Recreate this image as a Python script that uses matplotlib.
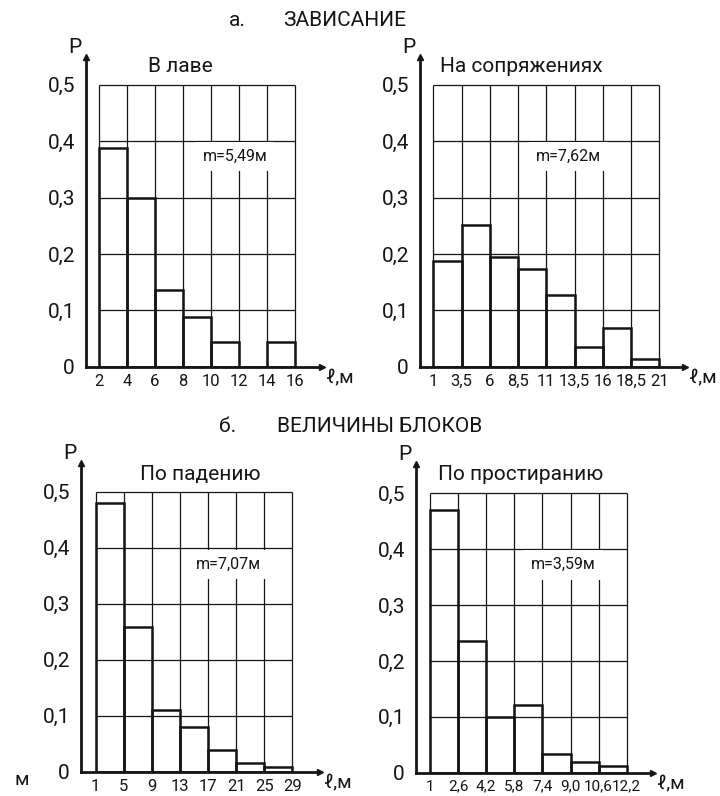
import matplotlib

matplotlib.use("Agg")
import matplotlib.pyplot as plt  # noqa: E402
import numpy as np  # noqa: E402

plt.rcParams["font.family"] = ["Roboto", "DejaVu Sans"]

W, H = 720, 796  # output size, px

# --- data ---
p_ticks = [0, 0.1, 0.2, 0.3, 0.4, 0.5]
p_labels = ["0", "0,1", "0,2", "0,3", "0,4", "0,5"]

lava_edges = [2, 4, 6, 8, 10, 12, 14, 16]
lava_labels = ["2", "4", "6", "8", "10", "12", "14", "16"]
lava_p = [0.388, 0.300, 0.136, 0.089, 0.043, 0.0, 0.043]

conj_edges = [1, 3.5, 6, 8.5, 11, 13.5, 16, 18.5, 21]
conj_labels = ["1", "3,5", "6", "8,5", "11", "13,5", "16", "18,5", "21"]
conj_p = [0.187, 0.251, 0.195, 0.173, 0.128, 0.035, 0.068, 0.013]

dip_edges = [1, 5, 9, 13, 17, 21, 25, 29]
dip_labels = ["1", "5", "9", "13", "17", "21", "25", "29"]
dip_p = [0.479, 0.259, 0.111, 0.080, 0.039, 0.016, 0.009]

strike_edges = [1, 2.6, 4.2, 5.8, 7.4, 9.0, 10.6, 12.2]
strike_labels = ["1", "2,6", "4,2", "5,8", "7,4", "9,0", "10,6", "12,2"]
strike_p = [0.470, 0.236, 0.100, 0.121, 0.033, 0.020, 0.012]

panel_names = ["В лаве", "На сопряжениях", "По падению", "По простиранию"]
means = ["m=5,49м", "m=7,62м", "m=7,07м", "m=3,59м"]

# --- layout in pixels: y-axis x, first edge x, last edge x, arrow x, y(0), y(0.5), arrow top y
BOXES = [
    (86, 99, 295, 322, 366.7, 84.7, 57),
    (420, 433.3, 659.3, 685, 366.7, 84.7, 57),
    (81, 95.7, 292.3, 320, 771.7, 491.7, 463),
    (416, 430, 626.7, 653, 772.7, 493.3, 464),
]
NAME_POS = [(180, 67, "center"), (440, 67, "left"), (200, 475, "center"), (438, 475, "left")]
MEAN_POS = [(11.7, 0.373), (12.95, 0.373), (19.9, 0.370), (8.59, 0.372)]
XTICK_SIZE = [12, 12, 12, 11]

INK = "#151515"


def fig_xy(x, y):
    return x / W, 1 - y / H


def make_axes(fig, edges, box):
    ax_px, first_px, last_px, arrow_px, y0_px, y5_px, top_px = box
    sx = (edges[-1] - edges[0]) / (last_px - first_px)
    sy = 0.5 / (y0_px - y5_px)
    ax = fig.add_axes([ax_px / W, 1 - y0_px / H, (arrow_px - ax_px) / W, (y0_px - top_px) / H])
    ax.set_xlim(edges[0] - (first_px - ax_px) * sx, edges[-1] + (arrow_px - last_px) * sx)
    ax.set_ylim(0, 0.5 + (y5_px - top_px) * sy)
    return ax


def draw_panel(ax, edges, labels, p, mean, mean_pos, xsize):
    ax.patch.set_alpha(0)
    for s in ("top", "right"):
        ax.spines[s].set_visible(False)
    for s in ("left", "bottom"):
        ax.spines[s].set_linewidth(2.0)
        ax.spines[s].set_color(INK)
    # arrow heads
    ax.plot(1, 0, ">", color=INK, ms=5, transform=ax.transAxes, clip_on=False)
    ax.plot(0, 1, "^", color=INK, ms=5, transform=ax.transAxes, clip_on=False)

    # grid: only over the histogram area
    ax.vlines(edges, 0, 0.5, color=INK, lw=0.9, zorder=1)
    ax.hlines(p_ticks[1:], edges[0], edges[-1], color=INK, lw=0.9, zorder=1)

    ax.bar(edges[:-1], p, width=np.diff(edges), align="edge", fill=False,
           edgecolor=INK, linewidth=1.8, zorder=2)

    ax.text(*mean_pos, mean, ha="center", va="center", fontsize=11.5, color=INK, zorder=3,
            bbox=dict(boxstyle="square,pad=0.45", facecolor="white", edgecolor="none"))

    ax.set_xticks(edges, labels)
    ax.set_yticks(p_ticks, p_labels)
    ax.tick_params(axis="x", length=0, pad=5, labelsize=xsize, colors=INK)
    ax.tick_params(axis="y", length=0, pad=8, labelsize=15, colors=INK)

    ax.annotate("P", xy=(0, 1), xycoords="axes fraction", xytext=(-8, 0),
                textcoords="offset points", ha="center", va="bottom", fontsize=15, color=INK)
    ax.annotate("ℓ,м", xy=(1, 0), xycoords="axes fraction", xytext=(3, -2),
                textcoords="offset points", ha="left", va="top", fontsize=14, color=INK)


fig = plt.figure(figsize=(W / 100, H / 100), dpi=100)

panels = [
    (lava_edges, lava_labels, lava_p),
    (conj_edges, conj_labels, conj_p),
    (dip_edges, dip_labels, dip_p),
    (strike_edges, strike_labels, strike_p),
]
for i, (edges, labels, p) in enumerate(panels):
    ax = make_axes(fig, edges, BOXES[i])
    draw_panel(ax, edges, labels, p, means[i], MEAN_POS[i], XTICK_SIZE[i])
    nx, ny, ha = NAME_POS[i]
    fig.text(*fig_xy(nx, ny), panel_names[i], ha=ha, va="center", fontsize=15, color=INK)

# section headings
fig.text(*fig_xy(237, 20), "а.", ha="center", va="center", fontsize=15, color=INK)
fig.text(*fig_xy(283, 20), "ЗАВИСАНИЕ", ha="left", va="center", fontsize=15, color=INK)
fig.text(*fig_xy(228, 427), "б.", ha="center", va="center", fontsize=15, color=INK)
fig.text(*fig_xy(277, 427), "ВЕЛИЧИНЫ БЛОКОВ", ha="left", va="center", fontsize=15, color=INK)
# stray unit letter cut from the neighbouring figure
fig.text(*fig_xy(22, 780), "м", ha="center", va="center", fontsize=14, color=INK)

fig.savefig("out.png", dpi=100, facecolor="white")
